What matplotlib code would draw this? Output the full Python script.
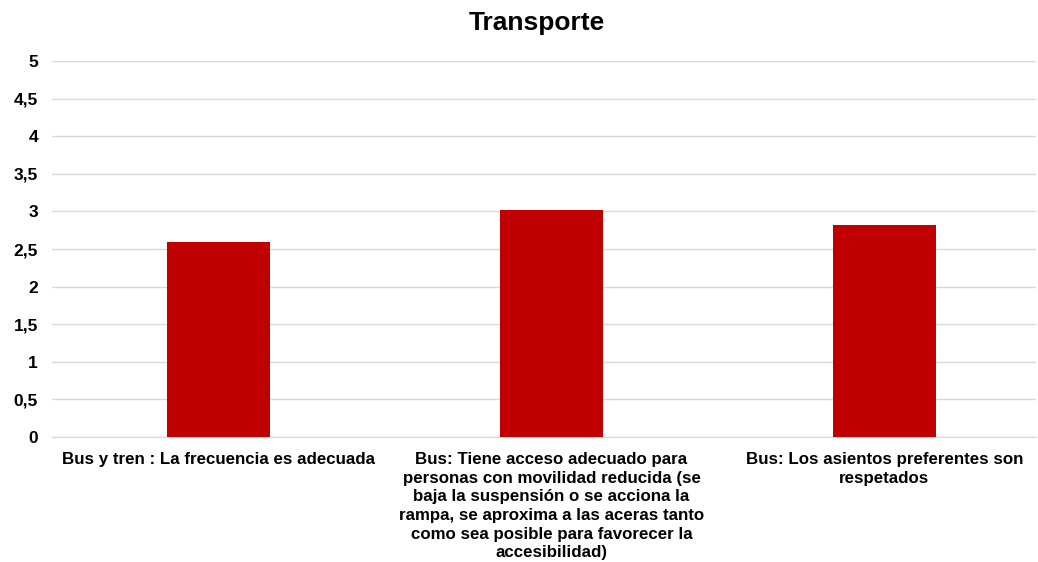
import numpy as np
import matplotlib.pyplot as plt
from matplotlib.ticker import FuncFormatter

plt.rcParams['font.family'] = ['Liberation Sans', 'DejaVu Sans']

categorias = [
    'Bus y tren : La frecuencia es adecuada',
    'Bus: Tiene acceso adecuado para\npersonas con movilidad reducida (se\nbaja la suspensión o se acciona la\nrampa, se aproxima a las aceras tanto\ncomo sea posible para favorecer la\naccesibilidad)',
    'Bus: Los asientos preferentes son\nrespetados',
]
valores = [2.59, 3.02, 2.82]

fig = plt.figure(figsize=(10.38, 5.62), dpi=100)
ax = fig.add_axes([52 / 1038, 1 - 437 / 562, (1036 - 52) / 1038, (437 - 61) / 562])

x = np.arange(len(categorias))
ax.bar(x, valores, width=0.31, color='#c00000', zorder=3)

ax.set_xlim(-0.5, 2.455)
ax.set_ylim(0, 5)
ax.set_yticks(np.arange(0, 5.01, 0.5))
ax.yaxis.set_major_formatter(FuncFormatter(lambda v, p: ('%g' % v).replace('.', ',')))
ax.yaxis.grid(True, color='#d9d9d9', linewidth=1, zorder=0)
ax.set_xticks(x)
ax.set_xticklabels(categorias, fontsize=12.2, fontweight='bold', va='top', linespacing=1.3)
for lab in ax.get_yticklabels():
    lab.set_fontsize(12.5)
    lab.set_fontweight('bold')
ax.tick_params(axis='y', length=0, pad=10)
ax.tick_params(axis='x', length=0, pad=11)
for s in ['top', 'right', 'left']:
    ax.spines[s].set_visible(False)
ax.spines['bottom'].set_color('#d9d9d9')

fig.text(537 / 1038, 1 - 23 / 562, 'Transporte', ha='center', va='center', fontsize=19, fontweight='bold')

fig.savefig('out.png', dpi=100)
